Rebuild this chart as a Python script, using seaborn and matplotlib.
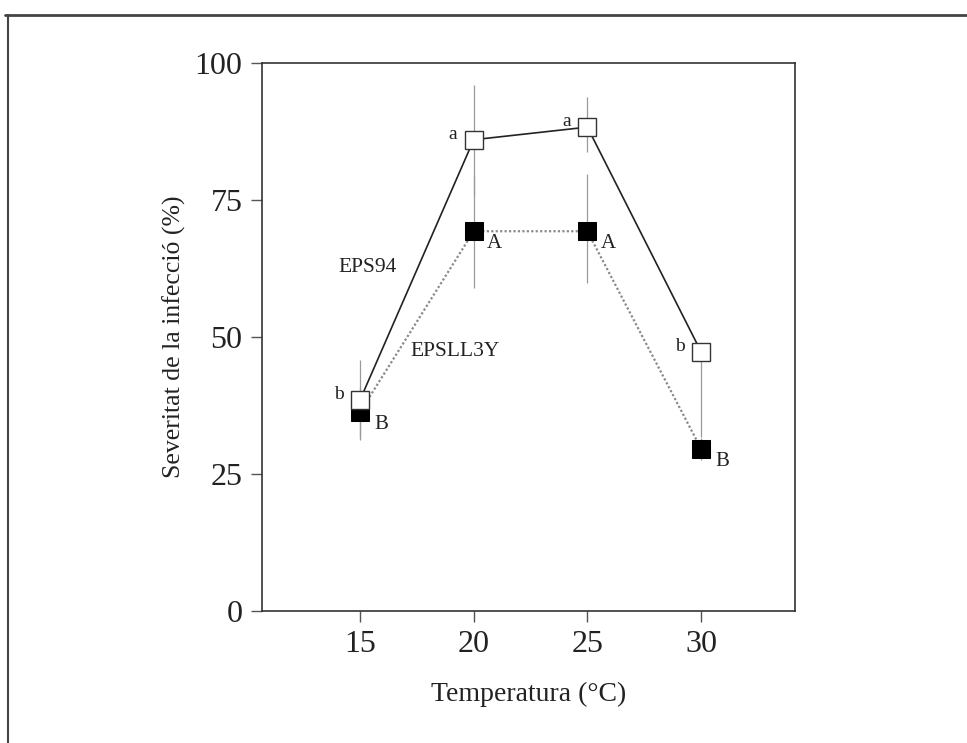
import matplotlib
matplotlib.use("Agg")
import matplotlib.pyplot as plt
import seaborn as sns
import pandas as pd
from matplotlib.lines import Line2D

temps = [15, 20, 25, 30]
eps94 = [38.5, 86.0, 88.3, 47.3]
eps94_err_lo = [7.3, 10.0, 4.5, 15.5]
eps94_err_hi = [7.3, 10.0, 5.5, 0.0]
epsll3y = [36.3, 69.3, 69.3, 29.6]
epsll3y_err_lo = [4.6, 10.3, 9.5, 2.0]
epsll3y_err_hi = [4.6, 10.0, 10.5, 2.0]
letters_94 = ["b", "a", "a", "b"]
letters_ll = ["B", "A", "A", "B"]
xticks = [15, 20, 25, 30]
yticks = [0, 25, 50, 75, 100]

sns.set_theme(style="white")
plt.rcParams["font.family"] = ["Liberation Serif", "DejaVu Serif"]

df = pd.DataFrame({
    "Temperatura": temps * 2,
    "Severitat": eps94 + epsll3y,
    "Linia": ["EPS94"] * 4 + ["EPSLL3Y"] * 4,
})

fig = plt.figure(figsize=(9.67, 7.43), dpi=100)
fig.patch.set_facecolor("white")
ax = fig.add_axes([262 / 967, 1 - 611 / 743, (795 - 262) / 967, (611 - 63) / 743])

# error bars
ax.errorbar(temps, eps94, yerr=[eps94_err_lo, eps94_err_hi], fmt="none", ecolor="#9a9a9a",
            elinewidth=0.9, capsize=0, zorder=1)
ax.errorbar(temps, epsll3y, yerr=[epsll3y_err_lo, epsll3y_err_hi], fmt="none", ecolor="#9a9a9a",
            elinewidth=0.9, capsize=0, zorder=1)

d94 = df[df["Linia"] == "EPS94"]
dll = df[df["Linia"] == "EPSLL3Y"]
sns.lineplot(data=dll, x="Temperatura", y="Severitat", ax=ax, color="#8a8a8a",
             linestyle=(0, (1, 1)), linewidth=1.6, marker="s", markersize=12.5,
             markerfacecolor="black", markeredgecolor="black", zorder=3)
sns.lineplot(data=d94, x="Temperatura", y="Severitat", ax=ax, color="#222222",
             linestyle="-", linewidth=1.2, marker="s", markersize=12.5,
             markerfacecolor="white", markeredgecolor="#333333", markeredgewidth=1.0, zorder=4)

for x, y, t in zip(temps, eps94, letters_94):
    ax.annotate(t, (x, y), xytext=(-15, 4), textcoords="offset points",
                ha="center", va="center", fontsize=14, color="#222222")
for x, y, t in zip(temps, epsll3y, letters_ll):
    ax.annotate(t, (x, y), xytext=(15, -9), textcoords="offset points",
                ha="center", va="center", fontsize=15, color="#222222")

ax.text(15.35, 62.6, "EPS94", ha="center", va="center", fontsize=15.5, color="#222222")
ax.text(19.2, 47.3, "EPSLL3Y", ha="center", va="center", fontsize=15.5, color="#222222")

ax.set_xlim(10.69, 34.13)
ax.set_ylim(0, 100)
ax.set_xticks(xticks)
ax.set_yticks(yticks)
ax.tick_params(axis="both", direction="out", length=8, width=1, color="#555555",
               labelsize=23, labelcolor="#222222", bottom=True, left=True, pad=6)
ax.set_xlabel("Temperatura (°C)", fontsize=20, color="#222222", labelpad=16)
ax.set_ylabel("Severitat de la infecció (%)", fontsize=18.5, color="#222222", labelpad=6)
for s in ax.spines.values():
    s.set_visible(True)
    s.set_color("#333333")
    s.set_linewidth(1.2)
ax.grid(False)
if ax.get_legend() is not None:
    ax.get_legend().remove()

# outer frame (top and left lines of the scanned box)
fig.add_artist(Line2D([5 / 967, 1.0], [1 - 15 / 743, 1 - 15 / 743], transform=fig.transFigure,
                      color="#444444", linewidth=2))
fig.add_artist(Line2D([8 / 967, 8 / 967], [1 - 15 / 743, 0], transform=fig.transFigure,
                      color="#444444", linewidth=1.5))

fig.savefig("out.png", dpi=100, facecolor="white")
